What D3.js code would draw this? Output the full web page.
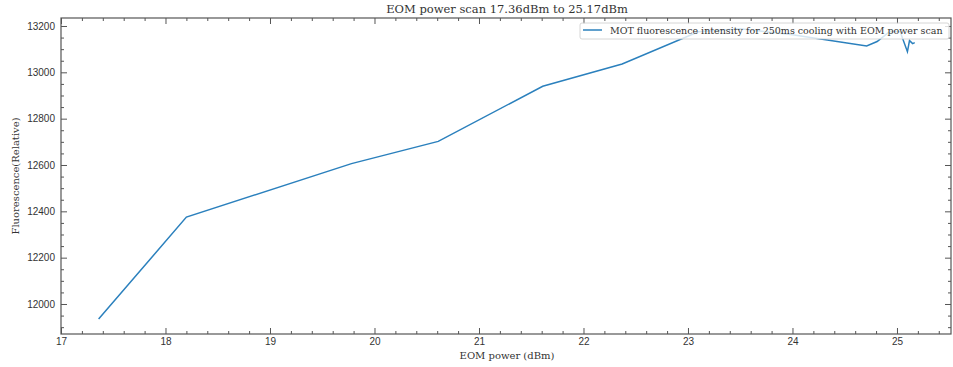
<!DOCTYPE html>
<html>
<head>
<meta charset="utf-8">
<script src="https://cdn.jsdelivr.net/npm/d3@7"></script>
<style>
  body { margin: 0; background: #fff; }
  svg { display: block; font-family: "DejaVu Serif", serif; }
</style>
</head>
<body>
<div id="chart"></div>
<script>
// Data
const power = [17.36, 18.2, 19.78, 20.61, 21.61, 22.37, 23.1, 23.5, 24.0, 24.71, 24.81, 24.93, 25.03, 25.1, 25.12, 25.15, 25.17];
const fluorescence = [11935, 12375, 12606, 12702, 12940, 13036, 13175, 13188, 13162, 13114, 13133, 13176, 13176, 13089, 13137, 13124, 13128];
const xTicks = [17, 18, 19, 20, 21, 22, 23, 24, 25];
const yTicks = [12000, 12200, 12400, 12600, 12800, 13000, 13200];

const titleText = "EOM power scan 17.36dBm to 25.17dBm";
const seriesLabel = "MOT fluorescence intensity for 250ms cooling with EOM power scan";

const width = 953, height = 367;
const margin = { top: 18, right: 2, bottom: 33, left: 61 };
const innerWidth = width - margin.left - margin.right;
const innerHeight = height - margin.top - margin.bottom;
const axisColor = "#555";

const svg = d3.select("#chart")
  .append("svg")
    .attr("width", width)
    .attr("height", height);

const g = svg.append("g")
  .attr("transform", `translate(${margin.left},${margin.top})`);

const x = d3.scaleLinear().domain([17, 25.517]).range([0, innerWidth]);
const y = d3.scaleLinear().domain([11870.5, 13234.5]).range([innerHeight, 0]);

const xMinor = d3.range(17, 25.6, 0.2).filter(v => Math.abs(v - Math.round(v)) > 1e-6);
const yMinor = d3.range(11900, 13235, 50).filter(v => v % 200 !== 0);

function styleAxis(sel) {
  sel.select(".domain").remove();
  sel.selectAll("line").attr("stroke", axisColor);
  sel.selectAll("text").filter(function() { return this.textContent === ""; }).remove();
  sel.selectAll("text").attr("fill", "#333").style("font-size", "10px");
}

// bottom + top
g.append("g")
  .attr("transform", `translate(0,${innerHeight})`)
  .call(d3.axisBottom(x).tickValues(xTicks).tickFormat(d3.format("d")).tickSizeInner(-6).tickPadding(4))
  .call(styleAxis);
g.append("g")
  .attr("transform", `translate(0,${innerHeight})`)
  .call(d3.axisBottom(x).tickValues(xMinor).tickFormat("").tickSizeInner(-3))
  .call(styleAxis);
g.append("g")
  .call(d3.axisTop(x).tickValues(xTicks).tickFormat("").tickSizeInner(-6))
  .call(styleAxis);
g.append("g")
  .call(d3.axisTop(x).tickValues(xMinor).tickFormat("").tickSizeInner(-3))
  .call(styleAxis);

// left + right
g.append("g")
  .call(d3.axisLeft(y).tickValues(yTicks).tickFormat(d3.format("d")).tickSizeInner(-6).tickPadding(5))
  .call(styleAxis)
  .selectAll("text").attr("dx", "-0.1em");
g.append("g")
  .call(d3.axisLeft(y).tickValues(yMinor).tickFormat("").tickSizeInner(-3))
  .call(styleAxis);
g.append("g")
  .attr("transform", `translate(${innerWidth},0)`)
  .call(d3.axisRight(y).tickValues(yTicks).tickFormat("").tickSizeInner(-6))
  .call(styleAxis);
g.append("g")
  .attr("transform", `translate(${innerWidth},0)`)
  .call(d3.axisRight(y).tickValues(yMinor).tickFormat("").tickSizeInner(-3))
  .call(styleAxis);

// frame
g.append("rect")
  .attr("width", innerWidth)
  .attr("height", innerHeight)
  .attr("fill", "none")
  .attr("stroke", axisColor)
  .attr("stroke-width", 1.2);

// line
const line = d3.line()
  .x((d, i) => x(power[i]))
  .y(d => y(d));

g.append("path")
  .datum(fluorescence)
  .attr("fill", "none")
  .attr("stroke", "#2b80bd")
  .attr("stroke-width", 1.5)
  .attr("d", line);

// legend
const legend = g.append("g")
  .attr("transform", `translate(${innerWidth - 371},5)`);
legend.append("rect")
  .attr("width", 369)
  .attr("height", 16)
  .attr("rx", 2)
  .attr("fill", "white")
  .attr("fill-opacity", 0.8)
  .attr("stroke", "#ccc")
  .attr("stroke-width", 0.8);
legend.append("line")
  .attr("x1", 3).attr("x2", 22)
  .attr("y1", 7).attr("y2", 7)
  .attr("stroke", "#2b80bd")
  .attr("stroke-width", 1.5);
legend.append("text")
  .attr("x", 30)
  .attr("y", 11)
  .attr("fill", "#333")
  .style("font-size", "9.5px")
  .text(seriesLabel);

// title and labels
svg.append("text")
  .attr("x", 507)
  .attr("y", 13)
  .attr("text-anchor", "middle")
  .attr("fill", "#333")
  .style("font-size", "11.5px")
  .text(titleText);

svg.append("text")
  .attr("x", 507)
  .attr("y", 359)
  .attr("text-anchor", "middle")
  .attr("fill", "#333")
  .style("font-size", "10px")
  .text("EOM power (dBm)");

svg.append("text")
  .attr("transform", "rotate(-90)")
  .attr("x", -176)
  .attr("y", 19)
  .attr("text-anchor", "middle")
  .attr("fill", "#333")
  .style("font-size", "10px")
  .text("Fluorescence(Relative)");
</script>
</body>
</html>
